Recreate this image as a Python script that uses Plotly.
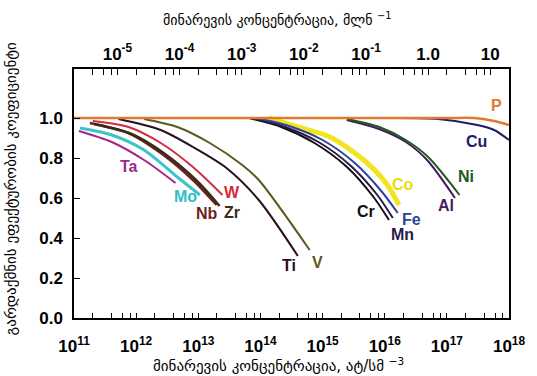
import math
import plotly.graph_objects as go

# Impurity concentration (atoms/cm^3) and normalised conversion efficiency per element
ta_x = [1.2e11, 4.05e11, 1.34e12, 4.3e12]
ta_y = [0.935, 0.88, 0.79, 0.675]
mo_x = [1.25e11, 4.05e11, 1.34e12, 4.6e12, 1.06e13]
mo_y = [0.95, 0.915, 0.84, 0.705, 0.615]
nb_x = [1.8e11, 7.5e11, 2.49e12, 8.2e12, 1.97e13]
nb_y = [0.975, 0.925, 0.825, 0.69, 0.565]
zr_x = [2.1e11, 8.4e11, 2.77e12, 9.2e12, 2.2e13]
zr_y = [0.97, 0.92, 0.825, 0.69, 0.56]
w_x = [2.0e11, 7.5e11, 2.49e12, 8.2e12, 2.45e13]
w_y = [0.985, 0.955, 0.875, 0.755, 0.615]
ti_x = [5.2e11, 2.49e12, 8.2e12, 2.84e13, 9.4e13, 4.0e14]
ti_y = [0.995, 0.94, 0.855, 0.75, 0.59, 0.31]
v_x = [1.34e12, 4.6e12, 1.53e13, 5.1e13, 9.4e13, 6.2e14]
v_y = [0.995, 0.955, 0.875, 0.765, 0.69, 0.34]
cr_x = [6.5e13, 2.17e14, 7.4e14, 2.47e15, 6.6e15, 1.17e16]
cr_y = [1.0, 0.955, 0.875, 0.755, 0.605, 0.49]
mn_x = [7.5e13, 2.5e14, 8.6e14, 2.86e15, 7.6e15, 1.35e16]
mn_y = [1.0, 0.955, 0.88, 0.76, 0.615, 0.50]
fe_x = [8.7e13, 2.9e14, 1.0e15, 3.3e15, 8.8e15, 1.62e16]
fe_y = [1.0, 0.96, 0.89, 0.775, 0.635, 0.525]
co_x = [1.35e14, 4.0e14, 1.32e15, 4.6e15, 1.05e16, 1.7e16]
co_y = [1.0, 0.955, 0.905, 0.79, 0.675, 0.565]
ni_x = [2.47e15, 8.2e15, 2.18e16, 5.0e16, 1.6e17]
ni_y = [0.995, 0.955, 0.89, 0.805, 0.615]
al_x = [2.45e15, 8.1e15, 2.19e16, 4.8e16, 1.35e17]
al_y = [0.99, 0.945, 0.88, 0.79, 0.60]
cu_x = [1.0e11, 1.0e14, 1.0e16, 7.2e16, 3.1e17, 5.75e17, 1.0e18]
cu_y = [1.0, 1.0, 1.0, 0.995, 0.965, 0.94, 0.89]
p_x = [1.0e11, 1.0e14, 1.0e17, 2.75e17, 5.75e17, 1.0e18]
p_y = [1.0, 1.0, 1.0, 1.0, 0.985, 0.965]

# Element name, data, colour, line width, label position (concentration, value)
series = [
    ("Ta", ta_x, ta_y, "#9a2a8c", 2, 7.8e11, 0.76),
    ("Mo", mo_x, mo_y, "#3ec3cc", 3, 6.2e12, 0.61),
    ("W", w_x, w_y, "#d02c3c", 2, 3.5e13, 0.63),
    ("Nb", nb_x, nb_y, "#6e1f1f", 2.5, 1.37e13, 0.525),
    ("Zr", zr_x, zr_y, "#3d2b1a", 2.5, 3.5e13, 0.53),
    ("Ti", ti_x, ti_y, "#2a0f1e", 2, 2.85e14, 0.265),
    ("V", v_x, v_y, "#5a5a1c", 2, 8.3e14, 0.28),
    ("Co", co_x, co_y, "#f2e41e", 5, 2.0e16, 0.67),
    ("Cr", cr_x, cr_y, "#111111", 2, 5.0e15, 0.535),
    ("Mn", mn_x, mn_y, "#2b1848", 2, 1.95e16, 0.42),
    ("Fe", fe_x, fe_y, "#2a4596", 2, 2.65e16, 0.495),
    ("Al", al_x, al_y, "#4a1a5a", 2, 9.6e16, 0.565),
    ("Ni", ni_x, ni_y, "#1d5a1d", 2, 2.0e17, 0.71),
    ("Cu", cu_x, cu_y, "#1c1c6a", 2, 3.0e17, 0.885),
    ("P", p_x, p_y, "#e07a30", 2.5, 6.3e17, 1.065),
]

label_colors = {"Co": "#e8dc10", "Mo": "#2fbcc8", "P": "#e07a30"}

bottom_major = [10.0 ** e for e in range(11, 19)]
bottom_minor = [m * 10.0 ** e for e in range(11, 18) for m in (2, 4, 6, 8)]
bottom_text = ["10<sup>%d</sup>" % e for e in range(11, 19)]
top_major = [1e-5, 1e-4, 1e-3, 1e-2, 1e-1, 1, 10]
top_minor = [m * 10.0 ** e for e in range(-6, 2) for m in (2, 4, 6, 8)]
top_text = ["10<sup>-5</sup>", "10<sup>-4</sup>", "10<sup>-3</sup>",
            "10<sup>-2</sup>", "10<sup>-1</sup>", "1.0", "10"]
y_ticks = [0.0, 0.2, 0.4, 0.6, 0.8, 1.0]

# ppma scale sits 16.699 decades below atoms/cm^3
X_RANGE = [11.0, 18.0]
PPM_SHIFT = 16.699

fig = go.Figure()
for name, xs, ys, col, lw, lx, ly in series:
    fig.add_trace(go.Scatter(x=xs, y=ys, mode="lines", name=name,
                             line=dict(color=col, width=lw, shape="spline", smoothing=0.8),
                             showlegend=False, hoverinfo="skip"))
    fig.add_annotation(x=math.log10(lx), y=ly, xref="x", yref="y",
                       text="<b>%s</b>" % name, showarrow=False,
                       font=dict(family="Liberation Sans", size=16,
                                 color=label_colors.get(name, col)))

# empty trace so the ppm axis is rendered
fig.add_trace(go.Scatter(x=[1e-3], y=[None], xaxis="x2", showlegend=False,
                         hoverinfo="skip", mode="lines"))

tick_font = dict(family="Liberation Sans", size=17, color="black", weight=700)

fig.update_layout(
    width=537, height=376,
    margin=dict(l=74, r=21, t=69, b=58),
    paper_bgcolor="white", plot_bgcolor="white",
    xaxis=dict(type="log", range=X_RANGE, showline=True, linecolor="black",
               linewidth=1.5, mirror=True, ticks="inside", ticklen=5, tickwidth=1,
               tickcolor="black", tickmode="array",
               tickvals=bottom_major + bottom_minor,
               ticktext=bottom_text + [""] * len(bottom_minor),
               tickfont=tick_font, showgrid=False, zeroline=False,
               ticklabelstandoff=12),
    xaxis2=dict(type="log", overlaying="x", side="top", anchor="y",
                range=[X_RANGE[0] - PPM_SHIFT, X_RANGE[1] - PPM_SHIFT], showline=False,
                ticks="inside", ticklen=6, tickwidth=1, tickcolor="black",
                tickmode="array", tickvals=top_major + top_minor,
                ticktext=top_text + [""] * len(top_minor),
                tickfont=tick_font, showgrid=False, zeroline=False,
                ticklabelstandoff=5),
    yaxis=dict(range=[0, 1.245], showline=True, linecolor="black", linewidth=1.5,
               mirror=True, ticks="inside", ticklen=6, tickcolor="black",
               tickmode="array", tickvals=y_ticks,
               ticktext=["%.1f" % v for v in y_ticks], tickfont=tick_font,
               showgrid=False, zeroline=False, ticklabelstandoff=6),
)

fig.add_annotation(x=0.47, y=-0.19, xref="paper", yref="paper", showarrow=False,
                   text="მინარევის კონცენტრაცია, ატ/სმ <sup>−3</sup>",
                   font=dict(family="DejaVu Sans", size=15, color="black"),
                   xanchor="center", yanchor="middle")
fig.add_annotation(x=0.466, y=1.2, xref="paper", yref="paper", showarrow=False,
                   text="მინარევის კონცენტრაცია, მლნ <sup>−1</sup>",
                   font=dict(family="DejaVu Sans", size=14, color="black"),
                   xanchor="center", yanchor="middle")
fig.add_annotation(x=-0.145, y=0.52, xref="paper", yref="paper", showarrow=False,
                   text="გარდაქმნის ეფექტურობის კოეფიციენტი", textangle=-90,
                   font=dict(family="DejaVu Sans", size=15, color="black"),
                   xanchor="center", yanchor="middle")

fig.write_html("out.html")
